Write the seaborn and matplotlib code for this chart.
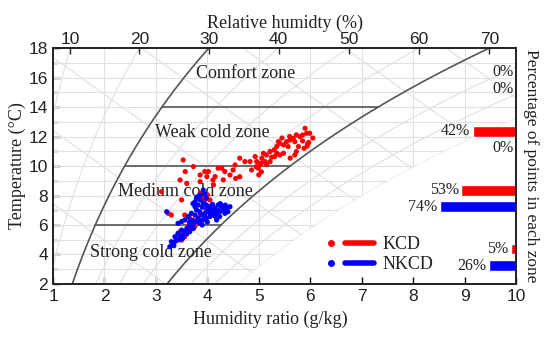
import numpy as np
import pandas as pd
import matplotlib
matplotlib.use('Agg')
import matplotlib.pyplot as plt
import seaborn as sns
from matplotlib.lines import Line2D
from matplotlib.patches import Polygon
from matplotlib.legend_handler import HandlerTuple

# measured points: humidity ratio (g/kg) and temperature (C)
kcd_w = [5.90, 5.93, 5.99, 5.80, 5.73, 5.67, 5.70, 5.61, 5.54, 5.41, 5.48, 5.35, 5.38, 5.57, 5.77,
         5.73, 5.70, 5.61, 5.48, 5.41, 5.35, 5.31, 5.22, 5.15, 5.09, 5.06, 5.12, 5.02, 4.99, 4.96,
         4.93, 5.22, 4.86, 4.83, 4.73, 4.63, 4.54, 4.50, 4.44, 4.34, 4.31, 4.28, 4.21, 4.15, 4.12,
         3.99, 3.95, 3.86, 3.73, 3.53, 3.57, 5.85, 5.95, 6.05, 5.05, 5.00, 5.15, 5.30, 5.60, 5.45,
         5.85, 5.05, 5.25, 4.95, 5.97, 5.94, 5.88, 3.47, 3.11, 3.60, 3.86, 4.02, 4.11, 4.55, 4.63,
         3.50, 3.86, 3.98, 3.95, 4.05, 3.90, 4.00, 3.92, 3.24, 3.30, 3.56, 3.66, 3.73, 3.63, 3.69,
         3.76, 3.47, 3.56, 3.50, 3.86, 3.98, 4.11]
kcd_t = [12.56, 12.22, 12.22, 11.99, 12.11, 11.88, 11.65, 11.77, 11.65, 11.54, 11.43, 11.32, 11.65, 11.32, 11.32,
         10.98, 10.75, 10.53, 10.86, 10.75, 10.86, 10.64, 10.98, 10.75, 10.86, 10.53, 10.30, 10.07, 9.85, 10.30,
         10.64, 10.30, 9.73, 10.30, 10.30, 10.53, 10.07, 9.73, 9.39, 9.62, 9.06, 9.85, 9.85, 9.28, 8.72,
         9.28, 9.62, 8.94, 9.96, 10.41, 9.62, 11.70, 11.50, 11.90, 9.60, 9.40, 10.10, 11.10, 12.00, 11.90,
         12.10, 10.20, 10.60, 9.95, 11.60, 11.35, 11.20, 9.05, 8.26, 8.82, 9.39, 9.62, 9.05, 9.16, 9.27,
         7.70, 8.15, 7.92, 7.70, 7.70, 7.85, 8.05, 7.60, 6.79, 6.68, 6.68, 6.45, 6.34, 5.89, 5.77,
         5.93, 5.55, 5.21, 4.98, 6.68, 7.02, 7.24]

nkcd_w = [3.27, 3.34, 3.30, 3.40, 3.47, 3.43, 3.53, 3.56, 3.50, 3.60, 3.66, 3.73, 3.79, 3.86, 3.82,
          3.92, 3.98, 4.05, 4.11, 4.18, 4.24, 4.31, 4.37, 4.27, 4.21, 4.15, 4.08, 4.02, 3.95, 3.89,
          3.79, 3.82, 3.76, 3.86, 3.92, 3.98, 4.05, 4.11, 3.76, 3.69, 3.63, 3.76, 3.50, 3.43, 3.56,
          3.21, 3.92, 3.86, 3.79, 3.98, 3.37, 3.66, 3.73, 4.18, 4.24, 4.34, 4.40, 4.44, 3.35, 3.38,
          3.45, 3.52, 3.60, 3.70, 3.85, 3.95, 4.00, 4.10, 4.20, 4.30, 3.90, 3.85, 4.05, 4.15, 3.70,
          3.65, 3.90, 4.00, 4.35, 4.25, 3.80, 3.95, 3.72]
nkcd_t = [4.53, 4.76, 4.87, 4.98, 5.21, 5.44, 5.32, 5.55, 5.66, 5.77, 6.00, 6.11, 6.23, 6.11, 6.45,
          6.34, 6.45, 6.57, 6.68, 6.79, 6.90, 7.02, 7.13, 7.24, 7.36, 7.13, 7.02, 6.90, 6.79, 6.68,
          7.02, 7.36, 7.58, 7.70, 7.47, 7.36, 7.24, 6.90, 7.24, 6.79, 6.57, 6.68, 6.23, 6.11, 6.34,
          6.90, 8.37, 8.03, 7.81, 7.81, 5.21, 5.55, 5.77, 6.34, 6.57, 6.79, 6.90, 7.24, 4.60, 4.90,
          5.00, 5.10, 5.40, 5.90, 6.30, 6.60, 7.10, 7.40, 7.00, 7.30, 7.20, 6.90, 6.80, 6.60, 6.30,
          6.20, 6.00, 6.20, 7.35, 7.45, 7.90, 8.10, 7.45]

zones = ['Comfort zone', 'Weak cold zone', 'Medium cold zone', 'Strong cold zone']
zone_mid = [16, 12, 8, 4]
kcd_pct = [0, 42, 53, 5]
nkcd_pct = [0, 0, 74, 26]
rh_ticks = [10, 20, 30, 40, 50, 60, 70]

P = 96.0  # kPa, site pressure of the chart


def pws(t):
    return 0.61094 * np.exp(17.625 * t / (t + 243.04))


def w_rh(t, rh):
    pv = rh / 100.0 * pws(t)
    return 622 * pv / (P - pv)


serif = 'Liberation Serif'
sans = 'Liberation Sans'
sns.set_theme(style='white')
plt.rcParams['font.family'] = sans

fig = plt.figure(figsize=(5.5, 3.42), dpi=100)
ax = fig.add_axes([0.0964, 0.1696, 0.8418, 0.69])
ax.set_xlim(1, 10)
ax.set_ylim(2, 18)

# psychrometric background, clipped to the unsaturated region
tt = np.linspace(2, 18, 200)
clip = Polygon([(0, 2)] + list(zip(w_rh(tt, 100), tt)) + [(0, 18)],
               transform=ax.transData, facecolor='none', edgecolor='none')
ax.add_patch(clip)
grid_kw = dict(color='#e0e0e0', lw=0.8, zorder=1)
bg = []
for t in range(3, 18):
    bg += ax.plot([1, 10], [t, t], **grid_kw)
for w in range(2, 10):
    bg += ax.plot([w, w], [2, 18], **grid_kw)
for rh in range(10, 101, 10):
    if rh in (30, 70):
        continue
    bg += ax.plot(w_rh(tt, rh), tt, **grid_kw)
ww = np.linspace(0, 12, 100)
for h in range(10, 70, 5):
    bg += ax.plot(ww, (h - 2.501 * ww) / (1.006 + 0.00186 * ww), **grid_kw)
for ln in bg:
    ln.set_clip_path(clip)

# zone boundaries
zc = '#555555'
ax.plot(w_rh(tt, 30), tt, color=zc, lw=1.2, zorder=2)
ax.plot(w_rh(tt, 70), tt, color=zc, lw=1.2, zorder=2)
for t in [14, 10, 6]:
    ax.plot([w_rh(t, 30), w_rh(t, 70)], [t, t], color=zc, lw=1.2, zorder=2)

text_pos = [(3.78, 16.25), (2.98, 12.25), (2.26, 8.25), (1.72, 4.15)]
for name, (x, y) in zip(zones, text_pos):
    ax.text(x, y, name, family=serif, fontsize=13, va='center', ha='left', color='#222222', zorder=3)

# measured points
df = pd.concat([
    pd.DataFrame({'w': kcd_w, 't': kcd_t, 'group': 'KCD'}),
    pd.DataFrame({'w': nkcd_w, 't': nkcd_t, 'group': 'NKCD'}),
])
sns.scatterplot(data=df, x='w', y='t', hue='group', palette={'KCD': '#ff0000', 'NKCD': '#0000ff'},
                s=14, linewidth=0, legend=False, ax=ax, zorder=4)

# percentage bars on the right edge
scale = 0.02
for mid, pk, pn in zip(zone_mid, kcd_pct, nkcd_pct):
    for pct, dy, col in [(pk, 0.35, '#ff0000'), (pn, -0.75, '#0000ff')]:
        y = mid + dy
        ax.barh(y, -pct * scale, left=10, height=0.7, color=col, zorder=5)
        ax.text(10 - pct * scale - 0.05, y, f'{pct}%', family=serif, fontsize=11.5,
                ha='right', va='center', color='#222222', zorder=5)

# axes styling
for sp in ax.spines.values():
    sp.set_color('black')
    sp.set_linewidth(1.2)
ax.set_xticks(range(1, 11))
ax.set_yticks(range(2, 19, 2))
ax.set_yticks(range(3, 18, 2), minor=True)
ax.tick_params(axis='both', which='major', direction='in', length=5, width=1, labelsize=12.5,
               colors='black', labelcolor='#222222', left=True, bottom=True)
ax.tick_params(axis='y', which='minor', direction='in', length=3, width=1, left=True)
ax.set_xlabel('Humidity ratio (g/kg)', family=serif, fontsize=13, labelpad=0, color='#222222')
ax.set_ylabel('Temperature (°C)', family=serif, fontsize=13, labelpad=2, color='#222222')
ax.xaxis.set_label_coords(0.47, -0.115)

top = ax.twiny()
top.set_xlim(1, 10)
top.set_xticks([w_rh(18, r) for r in rh_ticks])
top.set_xticklabels([str(r) for r in rh_ticks])
top.tick_params(axis='x', direction='in', length=4, width=1, labelsize=12.5, pad=1,
                top=True, labelcolor='#222222')
top.set_xlabel('Relative humidty (%)', family=serif, fontsize=13, labelpad=3, color='#222222')
top.spines['top'].set_linewidth(1.2)

right = ax.twinx()
right.set_yticks([])
right.set_ylabel('Percentage of points in each zone', family=serif, fontsize=12.5,
                 rotation=270, labelpad=5, color='#222222', va='bottom')

# legend: dot plus bar for each group
h_k = (Line2D([], [], color='#ff0000', marker='o', ms=4, lw=0),
       Line2D([], [], color='#ff0000', lw=4))
h_n = (Line2D([], [], color='#0000ff', marker='o', ms=4, lw=0),
       Line2D([], [], color='#0000ff', lw=4))
leg = ax.legend([h_k, h_n], ['KCD', 'NKCD'], handler_map={tuple: HandlerTuple(ndivide=None, pad=0.0)},
                loc='lower left', bbox_to_anchor=(0.545, 0.0), frameon=False, handlelength=3.2,
                handletextpad=0.5, labelspacing=0.15, borderaxespad=0.2,
                prop={'family': serif, 'size': 13})
for t in leg.get_texts():
    t.set_color('#222222')

fig.savefig('out.png', dpi=100)
